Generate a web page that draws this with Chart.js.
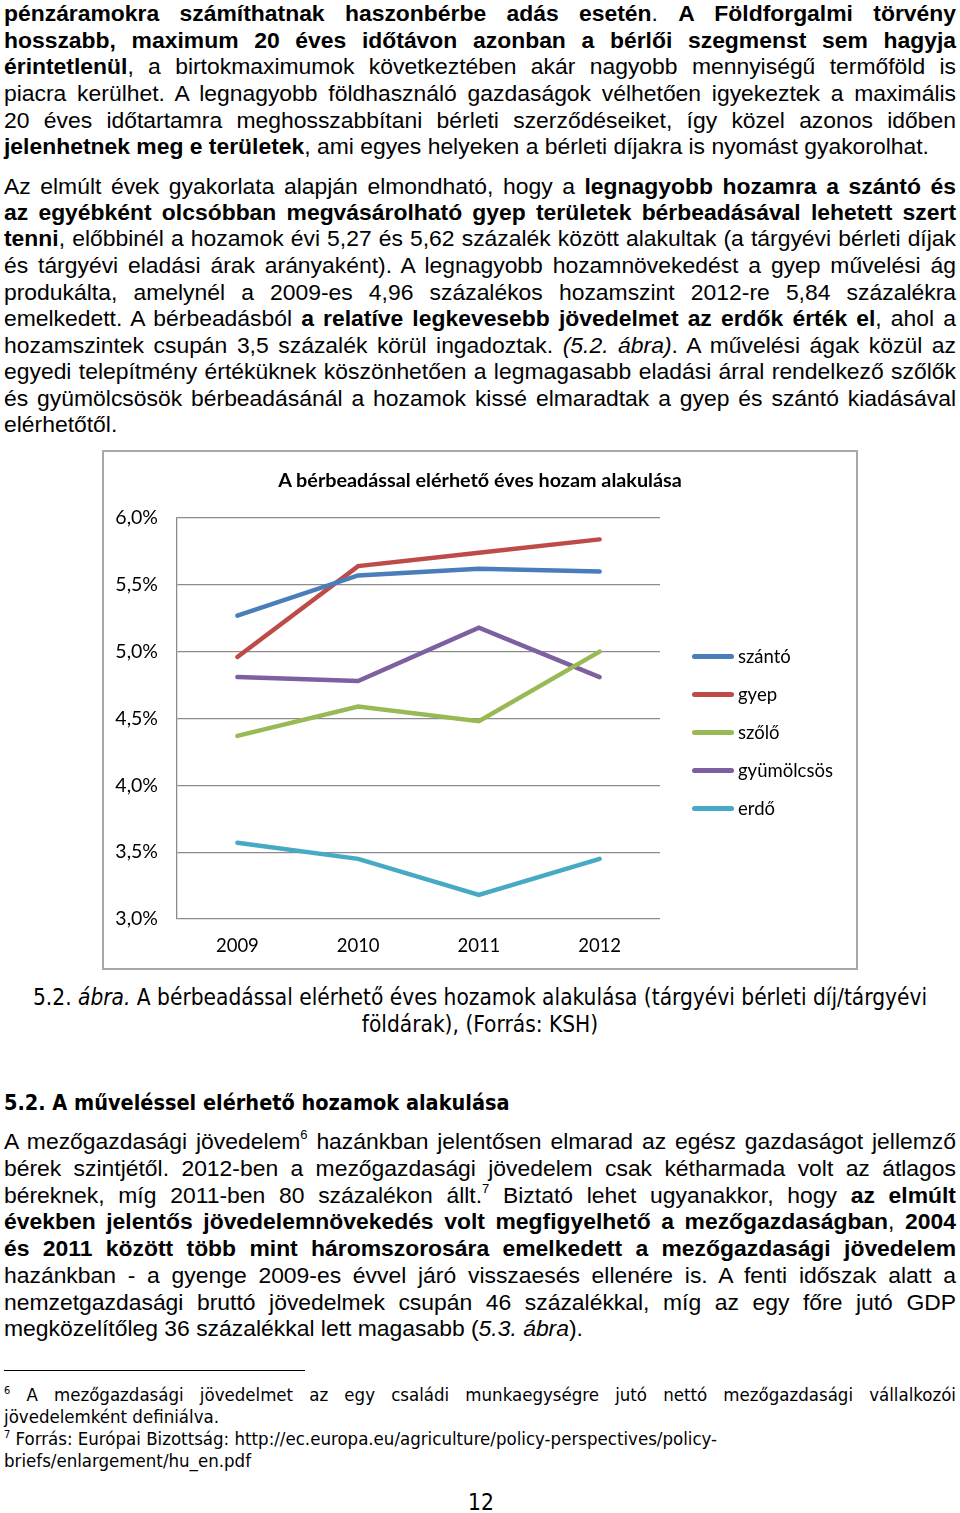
<!DOCTYPE html>
<html lang="hu">
<head>
<meta charset="utf-8">
<script src="https://cdn.jsdelivr.net/npm/chart.js@4.4.1/dist/chart.umd.min.js"></script>
<style>
  html, body { margin: 0; padding: 0; background: #fff; }
  body { width: 960px; height: 1513px; position: relative; overflow: hidden; font-family: "Liberation Sans", Arial, sans-serif; color: #000; }
  .ln { position: absolute; left: 4px; width: 952px; height: 27px; line-height: 27px; font-size: 22.9px; text-align: justify; text-align-last: justify; white-space: nowrap; }
  .ln.last { text-align-last: left; }
  .ln sup { font-size: 13px; line-height: 0; vertical-align: 10px; }
  .narrow { font-family: "Liberation Sans Narrow", "DejaVu Sans Condensed", "Liberation Sans", sans-serif; }
  #box { position: absolute; left: 102px; top: 450px; width: 752px; height: 516px; border: 2px solid #a9a9a9; }
  #box canvas { position: absolute; left: 0; top: 0; }
  #title { position: absolute; left: 0; width: 752px; top: 15px; text-align: center; font: bold 19.8px Lato, "Open Sans", sans-serif; }
  #legend { position: absolute; left: 588px; top: 185px; font: 18.5px Lato, "Open Sans", sans-serif; }
  #legend div { height: 38px; display: flex; align-items: center; }
  #legend span.sw { display: inline-block; width: 42px; height: 5px; border-radius: 3px; margin-right: 4px; }
  .cap { position: absolute; font-size: 22.5px; line-height: 27px; white-space: nowrap; }
  .fn { position: absolute; left: 4px; width: 952px; font-size: 18.5px; line-height: 22px; white-space: nowrap; }
  .fn sup { font-size: 11px; line-height: 0; vertical-align: 7px; }
</style>
</head>
<body>
<div id="text"></div>

<div id="box">
  <canvas id="chart" width="752" height="516"></canvas>
  <div id="title">A bérbeadással elérhető éves hozam alakulása</div>
  <div id="legend"></div>
</div>

<div class="cap narrow" style="left:0;width:960px;top:984px;text-align:center;">5.2. <i>ábra.</i> A bérbeadással elérhető éves hozamok alakulása (tárgyévi bérleti díj/tárgyévi</div>
<div class="cap narrow" style="left:0;width:960px;top:1011px;text-align:center;">földárak), (Forrás: KSH)</div>
<div class="cap narrow" style="left:4px;top:1089px;font-weight:bold;font-size:21.5px;">5.2. A műveléssel elérhető hozamok alakulása</div>

<div style="position:absolute;left:4px;top:1370px;width:301px;height:1px;background:#000;"></div>
<div class="fn narrow" style="top:1384px;text-align:justify;text-align-last:justify;"><sup>6</sup> A mezőgazdasági jövedelmet az egy családi munkaegységre jutó nettó mezőgazdasági vállalkozói</div>
<div class="fn narrow" style="top:1406px;">jövedelemként definiálva.</div>
<div class="fn narrow" style="top:1428px;"><sup>7</sup> Forrás: Európai Bizottság: http://ec.europa.eu/agriculture/policy-perspectives/policy-</div>
<div class="fn narrow" style="top:1450px;">briefs/enlargement/hu_en.pdf</div>
<div class="cap narrow" style="left:0;width:962px;top:1489px;text-align:center;">12</div>

<script>
// text lines: [center y, html, last line of paragraph]
const textLines = [
  [13, '<b>pénzáramokra számíthatnak haszonbérbe adás esetén</b>. <b>A Földforgalmi törvény</b>'],
  [40, '<b>hosszabb, maximum 20 éves időtávon azonban a bérlői szegmenst sem hagyja</b>'],
  [66, '<b>érintetlenül</b>, a birtokmaximumok következtében akár nagyobb mennyiségű termőföld is'],
  [93, 'piacra kerülhet. A legnagyobb földhasználó gazdaságok vélhetően igyekeztek a maximális'],
  [120, '20 éves időtartamra meghosszabbítani bérleti szerződéseiket, így közel azonos időben'],
  [146, '<b>jelenhetnek meg e területek</b>, ami egyes helyeken a bérleti díjakra is nyomást gyakorolhat.', true],
  [186, 'Az elmúlt évek gyakorlata alapján elmondható, hogy a <b>legnagyobb hozamra a szántó és</b>'],
  [212, '<b>az egyébként olcsóbban megvásárolható gyep területek bérbeadásával lehetett szert</b>'],
  [238, '<b>tenni</b>, előbbinél a hozamok évi 5,27 és 5,62 százalék között alakultak (a tárgyévi bérleti díjak'],
  [265, 'és tárgyévi eladási árak arányaként). A legnagyobb hozamnövekedést a gyep művelési ág'],
  [292, 'produkálta, amelynél a 2009-es 4,96 százalékos hozamszint 2012-re 5,84 százalékra'],
  [318, 'emelkedett. A bérbeadásból <b>a relatíve legkevesebb jövedelmet az erdők érték el</b>, ahol a'],
  [345, 'hozamszintek csupán 3,5 százalék körül ingadoztak. <i>(5.2. ábra)</i>. A művelési ágak közül az'],
  [371, 'egyedi telepítmény értéküknek köszönhetően a legmagasabb eladási árral rendelkező szőlők'],
  [398, 'és gyümölcsösök bérbeadásánál a hozamok kissé elmaradtak a gyep és szántó kiadásával'],
  [424, 'elérhetőtől.', true],
  [1141, 'A mezőgazdasági jövedelem<sup>6</sup> hazánkban jelentősen elmarad az egész gazdaságot jellemző'],
  [1168, 'bérek szintjétől. 2012-ben a mezőgazdasági jövedelem csak kétharmada volt az átlagos'],
  [1195, 'béreknek, míg 2011-ben 80 százalékon állt.<sup>7</sup> Biztató lehet ugyanakkor, hogy <b>az elmúlt</b>'],
  [1221, '<b>években jelentős jövedelemnövekedés volt megfigyelhető a mezőgazdaságban</b>, <b>2004</b>'],
  [1248, '<b>és 2011 között több mint háromszorosára emelkedett a mezőgazdasági jövedelem</b>'],
  [1275, 'hazánkban - a gyenge 2009-es évvel járó visszaesés ellenére is. A fenti időszak alatt a'],
  [1302, 'nemzetgazdasági bruttó jövedelmek csupán 46 százalékkal, míg az egy főre jutó GDP'],
  [1328, 'megközelítőleg 36 százalékkal lett magasabb (<i>5.3. ábra</i>).', true]
];

// chart data
const years = ['2009', '2010', '2011', '2012'];
const seriesNames = ['szántó', 'gyep', 'szőlő', 'gyümölcsös', 'erdő'];
const szanto = [5.27, 5.57, 5.62, 5.60];
const gyep = [4.96, 5.64, 5.74, 5.84];
const szolo = [4.37, 4.59, 4.48, 5.00];
const gyumolcsos = [4.81, 4.78, 5.18, 4.81];
const erdo = [3.57, 3.45, 3.18, 3.45];
const seriesColors = ['#4a7ebb', '#be4b48', '#98b954', '#7d60a0', '#46aac5'];
const yTicks = [3.0, 3.5, 4.0, 4.5, 5.0, 5.5, 6.0];

document.addEventListener('DOMContentLoaded', () => {
  const textBox = document.getElementById('text');
  textLines.forEach(([y, html, last]) => {
    const div = document.createElement('div');
    div.className = 'ln' + (last ? ' last' : '');
    div.style.top = (y - 13.5) + 'px';
    div.innerHTML = html;
    textBox.appendChild(div);
  });

  const allSeries = [szanto, gyep, szolo, gyumolcsos, erdo];
  const legend = document.getElementById('legend');
  seriesNames.forEach((name, i) => {
    const row = document.createElement('div');
    row.innerHTML = `<span class="sw" style="background:${seriesColors[i]}"></span>${name}`;
    legend.appendChild(row);
  });

  const tickFont = { family: 'Lato, "Open Sans", sans-serif', size: 19.5 };
  new Chart(document.getElementById('chart').getContext('2d'), {
    type: 'line',
    data: {
      labels: years,
      datasets: allSeries.map((d, i) => ({
        label: seriesNames[i],
        data: d,
        borderColor: seriesColors[i],
        backgroundColor: seriesColors[i],
        borderWidth: 4.5,
        borderCapStyle: 'round',
        borderJoinStyle: 'miter',
        pointRadius: 0,
        tension: 0
      }))
    },
    options: {
      responsive: false,
      animation: false,
      layout: { padding: { top: 66, right: 196, bottom: 0, left: 0 } },
      plugins: { legend: { display: false }, tooltip: { enabled: false } },
      scales: {
        x: {
          offset: true,
          grid: { display: false, drawTicks: false },
          border: { display: false },
          ticks: { color: '#000', font: { family: tickFont.family, size: 18.5 }, padding: 16, maxRotation: 0 },
          afterFit: s => { s.height = 49; }
        },
        y: {
          min: 3, max: 6,
          afterBuildTicks: s => { s.ticks = yTicks.map(v => ({ value: v })); },
          grid: { color: '#8c8c8c', lineWidth: 1.3, drawTicks: false },
          border: { display: true, color: '#8c8c8c', width: 1.3 },
          ticks: { color: '#000', font: tickFont, padding: 19,
            callback: v => v.toFixed(1).replace('.', ',') + '%' },
          afterFit: s => { s.width = 73; }
        }
      }
    }
  });
});
</script>
</body>
</html>
